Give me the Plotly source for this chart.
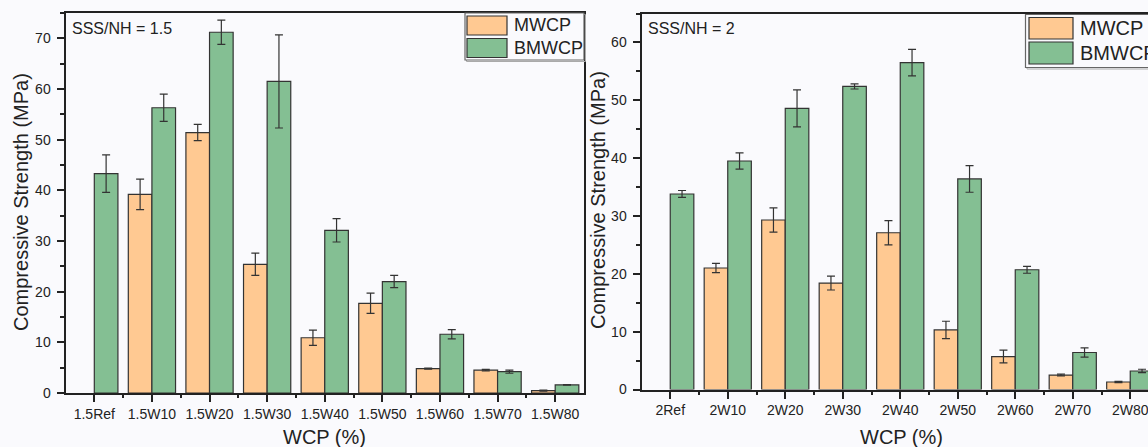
import plotly.graph_objects as go

# ---------------- data ----------------
cats_15 = ["1.5Ref", "1.5W10", "1.5W20", "1.5W30", "1.5W40", "1.5W50", "1.5W60", "1.5W70", "1.5W80"]
mwcp_15 = [None, 39.2, 51.4, 25.4, 10.9, 17.7, 4.8, 4.5, 0.45]
mwcp_15_err = [None, 3.0, 1.6, 2.2, 1.5, 2.0, 0.1, 0.15, 0.1]
bmwcp_15 = [43.3, 56.3, 71.2, 61.5, 32.1, 22.0, 11.6, 4.2, 1.6]
bmwcp_15_err = [3.7, 2.7, 2.4, 9.2, 2.3, 1.2, 0.9, 0.3, 0.05]

cats_2 = ["2Ref", "2W10", "2W20", "2W30", "2W40", "2W50", "2W60", "2W70", "2W80"]
mwcp_2 = [None, 21.0, 29.3, 18.4, 27.1, 10.3, 5.7, 2.5, 1.3]
mwcp_2_err = [None, 0.8, 2.1, 1.2, 2.1, 1.5, 1.1, 0.15, 0.1]
bmwcp_2 = [33.8, 39.5, 48.6, 52.4, 56.5, 36.4, 20.7, 6.4, 3.2]
bmwcp_2_err = [0.6, 1.4, 3.2, 0.45, 2.3, 2.3, 0.6, 0.8, 0.3]

series_names = ["MWCP", "BMWCP"]
y_ticks_15 = [0, 10, 20, 30, 40, 50, 60, 70]
y_ticks_2 = [0, 10, 20, 30, 40, 50, 60]

# ---------------- styling ----------------
W, H = 1148, 447
FONT = "Liberation Sans, Arial, sans-serif"
TXT = "#222222"
ORANGE = "#FFC992"
GREEN = "#84BF93"
EDGE = "#333333"
BG = "#FAFAFD"


def px(x):
    return x / W


def py(y):
    return 1 - y / H


fig = go.Figure()


def add_bars(cats, m, me, b, be, xa, ya):
    idx = list(range(len(cats)))
    for name, vals, errs, col in [(series_names[0], m, me, ORANGE), (series_names[1], b, be, GREEN)]:
        fig.add_trace(go.Bar(
            x=idx, y=vals, name=name, xaxis=xa, yaxis=ya, showlegend=False,
            marker=dict(color=col, line=dict(color=EDGE, width=1.2)),
            error_y=dict(type="data", array=errs, color=EDGE, thickness=1.2, width=4, visible=True),
        ))


add_bars(cats_15, mwcp_15, mwcp_15_err, bmwcp_15, bmwcp_15_err, "x", "y")
add_bars(cats_2, mwcp_2, mwcp_2_err, bmwcp_2, bmwcp_2_err, "x2", "y2")

axis_common = dict(
    showline=True, linewidth=2, linecolor=TXT, showgrid=False, zeroline=False,
    ticks="outside", ticklen=7, tickwidth=1.5, tickcolor=TXT,
    tickfont=dict(family=FONT, size=14, color=TXT),
    ticklabeloverflow="allow",
)

left_x0, left_x1, left_top, left_bot = 65.5, 584, 13, 393
right_x0, right_top, right_bot = 641.5, 13.5, 389.5
cat_px_right = 57.5

fig.update_layout(
    width=W, height=H,
    margin=dict(l=0, r=0, t=0, b=0, autoexpand=False),
    paper_bgcolor=BG, plot_bgcolor=BG,
    barmode="group", bargap=0.18, bargroupgap=0,
    showlegend=False,
    xaxis=dict(
        domain=[px(left_x0), px(left_x1)], anchor="y", range=[-0.5, len(cats_15) - 0.5],
        tickmode="array", tickvals=list(range(len(cats_15))), ticktext=cats_15,
        mirror=True,
        minor=dict(tickmode="array", tickvals=[i + 0.5 for i in range(len(cats_15) - 1)],
                   ticks="outside", ticklen=3, tickwidth=1.5, tickcolor=TXT),
        **axis_common,
    ),
    yaxis=dict(
        domain=[py(left_bot), py(left_top)], anchor="x", range=[0, 75],
        tickmode="array", tickvals=y_ticks_15, mirror=True, ticklabelstandoff=3,
        minor=dict(dtick=5, tick0=0, ticks="outside", ticklen=4, tickwidth=1.5, tickcolor=TXT),
        **axis_common,
    ),
    xaxis2=dict(
        domain=[px(right_x0), 1.0], anchor="y2",
        range=[-0.5, -0.5 + (W - right_x0) / cat_px_right],
        tickmode="array", tickvals=list(range(len(cats_2))), ticktext=cats_2,
        mirror=True,
        minor=dict(tickmode="array", tickvals=[i + 0.5 for i in range(len(cats_2) - 1)],
                   ticks="outside", ticklen=3, tickwidth=1.5, tickcolor=TXT),
        **axis_common,
    ),
    yaxis2=dict(
        domain=[py(right_bot), py(right_top)], anchor="x2", range=[0, 65],
        tickmode="array", tickvals=y_ticks_2, mirror=False, ticklabelstandoff=3,
        minor=dict(dtick=5, tick0=0, ticks="outside", ticklen=4, tickwidth=1.5, tickcolor=TXT),
        **axis_common,
    ),
)

ann = []
shapes = []


def text(x, y, s, size, xanchor="center", yanchor="middle", angle=0):
    ann.append(dict(x=px(x), y=py(y), xref="paper", yref="paper", text=s, showarrow=False,
                    xanchor=xanchor, yanchor=yanchor, textangle=angle,
                    font=dict(family=FONT, size=size, color=TXT)))


# panel labels
text(70, 28, "SSS/NH = 1.5", 16, xanchor="left")
text(645.5, 28, "SSS/NH = 2", 16, xanchor="left")
# axis titles
text(21, 202, "Compressive Strength (MPa)", 20, angle=-90)
text(598, 200, "Compressive Strength (MPa)", 20, angle=-90)
text(324.5, 437, "WCP (%)", 20)
text(901, 437, "WCP (%)", 20)


def legend(bx0, bx1, by0, by1, sw_x0, sw_x1, rows, tx, size):
    shapes.append(dict(type="rect", xref="paper", yref="paper",
                       x0=px(bx0 + 1.5), x1=px(bx1 + 1.5), y0=py(by0 + 1.5), y1=py(by1 + 1.5),
                       line=dict(color="#AAAAAA", width=1), fillcolor="rgba(0,0,0,0)"))
    shapes.append(dict(type="rect", xref="paper", yref="paper",
                       x0=px(bx0), x1=px(bx1), y0=py(by0), y1=py(by1),
                       line=dict(color="#666666", width=1.2), fillcolor=BG))
    for (y0, y1), name, col in zip(rows, series_names, [ORANGE, GREEN]):
        shapes.append(dict(type="rect", xref="paper", yref="paper",
                           x0=px(sw_x0), x1=px(sw_x1), y0=py(y0), y1=py(y1),
                           line=dict(color=EDGE, width=1.2), fillcolor=col))
        text(tx, (y0 + y1) / 2, name, size, xanchor="left")


legend(465, 584, 13, 60, 467, 507, [(16, 35), (38.5, 57.5)], 512, 18)
legend(1025.5, 1170, 14.5, 67.5, 1029, 1073, [(17.5, 39), (42, 64)], 1078, 20)

fig.update_layout(annotations=ann, shapes=shapes)

fig.write_html("out.html")
